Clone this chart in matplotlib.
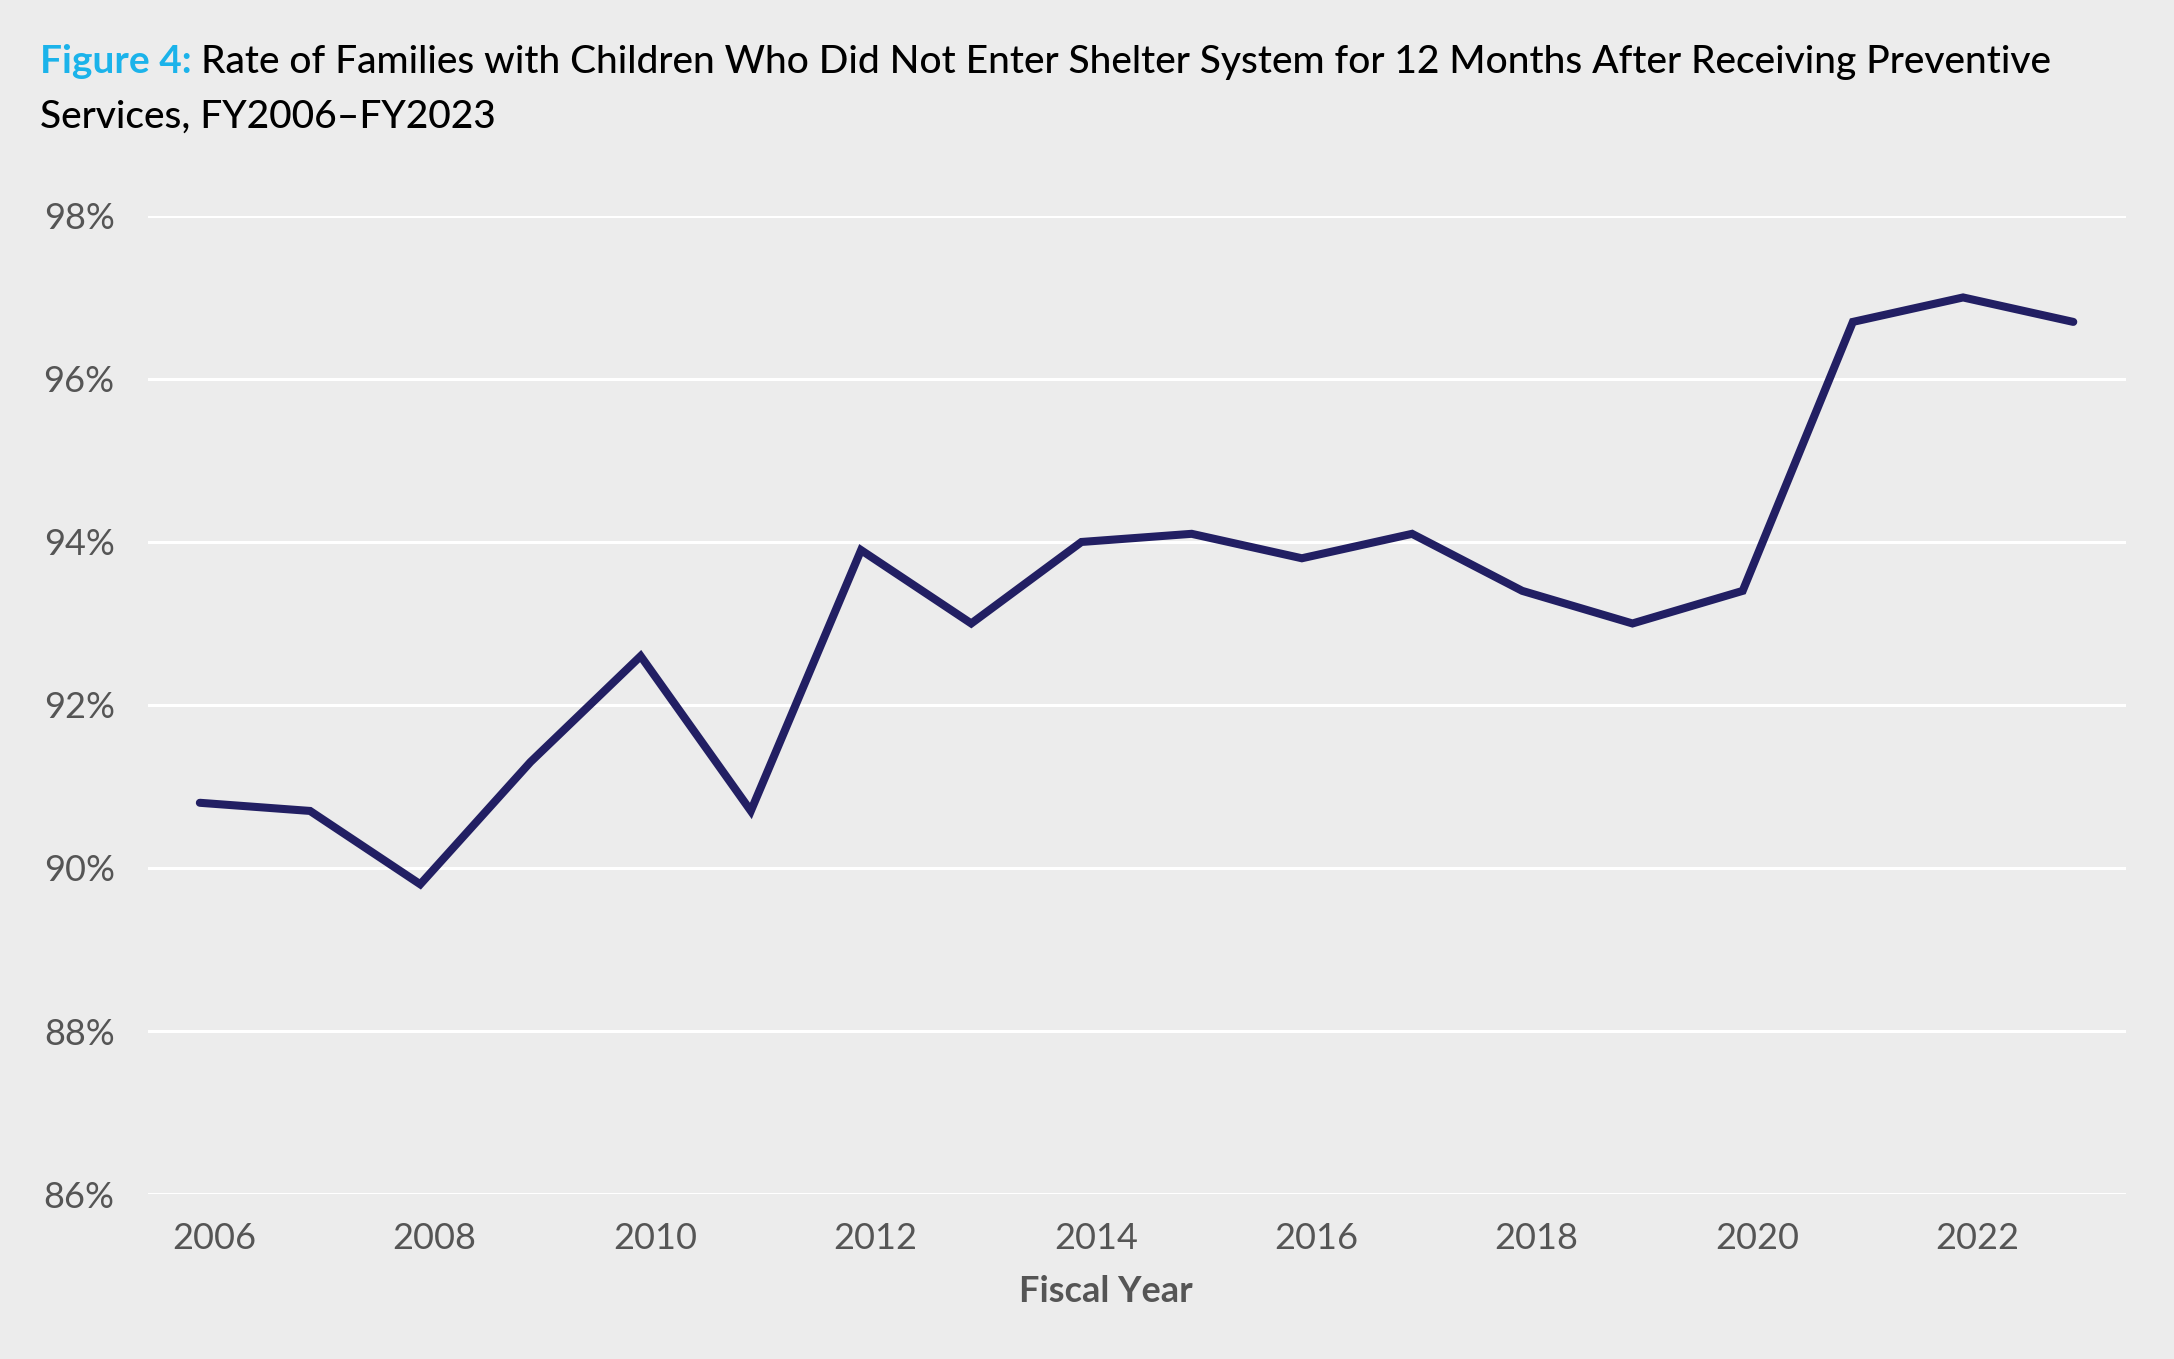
import matplotlib
matplotlib.use("Agg")
import matplotlib.pyplot as plt
from matplotlib.ticker import FuncFormatter

plt.rcParams['font.family'] = ['Lato', 'DejaVu Sans']

# fiscal years and share of families that stayed out of shelter (%)
years = [2006, 2007, 2008, 2009, 2010, 2011, 2012, 2013, 2014,
         2015, 2016, 2017, 2018, 2019, 2020, 2021, 2022, 2023]
rate = [90.8, 90.7, 89.8, 91.3, 92.6, 90.7, 93.9, 93.0, 94.0,
        94.1, 93.8, 94.1, 93.4, 93.0, 93.4, 96.7, 97.0, 96.7]

tick_years = [2006, 2008, 2010, 2012, 2014, 2016, 2018, 2020, 2022]
y_ticks = [86, 88, 90, 92, 94, 96, 98]

bg = '#ECECEC'
navy = '#221F63'
grey = '#555555'

fig = plt.figure(figsize=(21.74, 13.59), dpi=100, facecolor=bg)
ax = fig.add_axes([0.0681, 0.1214, 0.9099, 0.7197], facecolor=bg)

ax.plot(years, rate, color=navy, linewidth=5.8,
        solid_capstyle='round', solid_joinstyle='miter', zorder=3)

ax.set_xlim(2005.53, 2023.48)
ax.set_ylim(86, 98)
ax.set_yticks(y_ticks)
ax.yaxis.set_major_formatter(FuncFormatter(lambda v, p: f'{v:.0f}%'))
# labels sit a little right of the data points in the original
ax.set_xticks([y + 0.13 for y in tick_years])
ax.set_xticklabels([str(y) for y in tick_years])

ax.grid(axis='y', color='white', linewidth=2.2, zorder=1)
ax.grid(axis='x', visible=False)
for s in ax.spines.values():
    s.set_visible(False)
ax.tick_params(axis='both', length=0, colors=grey, labelsize=26)
ax.tick_params(axis='y', pad=24)
ax.tick_params(axis='x', pad=20)

ax.set_xlabel('Fiscal Year', fontsize=26, fontweight='bold', color=grey)
ax.xaxis.set_label_coords(0.484, -0.100)
ax.xaxis.label.set_va('center')

# title: blue figure number followed by black text
fig.canvas.draw()
t1 = fig.text(40 / 2174, 1 - 73 / 1359, 'Figure 4:', fontsize=28,
              fontweight='bold', color='#1BB3EA', va='baseline')
fig.canvas.draw()
bb = t1.get_window_extent()
fig.text((bb.x1 + 9) / 2174, 1 - 73 / 1359,
         'Rate of Families with Children Who Did Not Enter Shelter System for 12 Months After Receiving Preventive',
         fontsize=28, fontweight='medium', color='black', va='baseline')
fig.text(40 / 2174, 1 - 128 / 1359, 'Services, FY2006\u2013FY2023', fontsize=28,
         fontweight='medium', color='black', va='baseline')

fig.savefig('out.png', dpi=100, facecolor=bg)
